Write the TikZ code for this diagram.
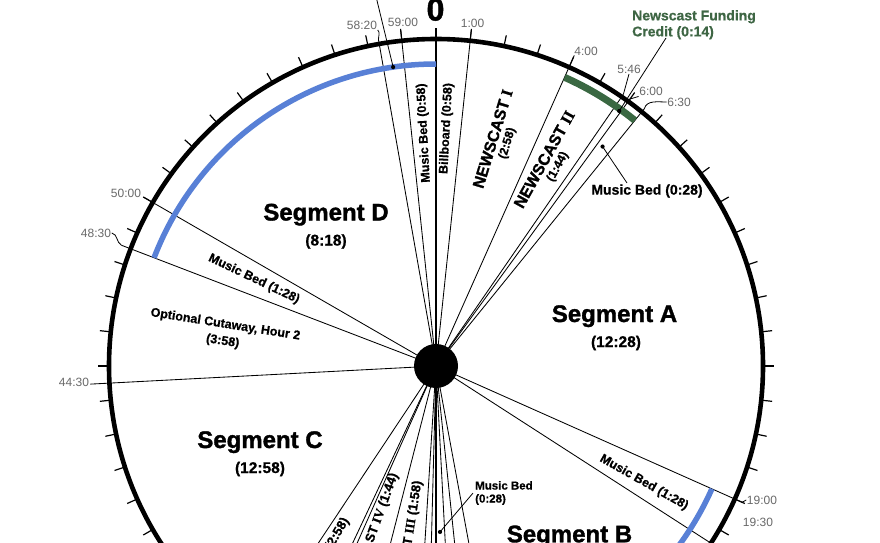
\documentclass[tikz,border=0pt]{standalone}
\usepackage{fontspec}
\setmainfont{Liberation Sans}
\newfontfamily\heavy{Liberation Sans}[FakeBold=1.4]
\newfontfamily\semiheavy{Liberation Sans}[FakeBold=0.7]
\newfontfamily\romfont{Liberation Serif}[FakeBold=0.7]
\usetikzlibrary{calc}
\definecolor{clkblue}{RGB}{88,128,214}
\definecolor{clkgreen}{RGB}{58,104,66}
\definecolor{clkgreentext}{RGB}{62,102,68}
\definecolor{clkgray}{RGB}{105,105,105}
\begin{document}
\begin{tikzpicture}[x=1pt,y=1pt,
  radial/.style={line width=0.85pt},
  mainradial/.style={line width=2.4pt},
  minutetick/.style={line width=1.2pt},
  leader/.style={line width=0.8pt},
  timelabel/.style={font=\fontsize{12}{12}\selectfont, text=clkgray, inner sep=0.5pt},
  seglabel/.style={font=\heavy\fontsize{24}{24}\selectfont\bfseries, inner sep=0pt, anchor=base},
  segtime/.style={font=\semiheavy\fontsize{15.5}{15.5}\selectfont\bfseries, inner sep=0pt},
  itemlabel/.style={font=\semiheavy\fontsize{12.5}{17}\selectfont\bfseries, inner sep=0pt, align=center},
  newslabel/.style={font=\heavy\fontsize{16}{13}\selectfont\bfseries, inner sep=0pt, align=center},
  newsbottom/.style={font=\semiheavy\fontsize{13}{13}\selectfont\bfseries, inner sep=0pt, anchor=east},
  dotmark/.style={circle, fill=black, inner sep=0pt, minimum size=4.2pt},
]
\useasboundingbox (0,0) rectangle (880,542);
\fill[white] (0,0) rectangle (880,542);
\clip (0,0) rectangle (880,542);
\coordinate (C) at (436,176);

% ends of the radial lines
\foreach \nm/\tm/\rad in {e0/0/338, e1/1/339, e4/4/340, e546/5.7667/330, e6/6/330, e630/6.5/331,
  e19/19/335, e2028/20.4667/334, e2815/28.25/327, e29/29/327, e2930/29.5/327, e30/30/327,
  e3015/30.25/327, e3036/30.6/327, e3224/32.4/327, e34/34/327, e3412/34.2/327, e3536/35.6/327,
  e4430/44.5/346, e4830/48.5/337, e50/50/338, e5820/58.3333/331, e59/59/339}
  {\coordinate (\nm) at ($(C)+({90-6*\tm}:\rad)$);}

\foreach \nm in {e1,e4,e546,e6,e630,e19,e2028,e2815,e29,e2930,e3015,e3036,e3224,e34,e3412,e3536,e4430,e4830,e50,e5820,e59}
  {\draw[radial] (C) -- (\nm);}
\draw[mainradial] (C) -- (e0);
\draw[mainradial] (C) -- (e30);

% clock ring and minute ticks
\draw[line width=4.6pt] (C) circle[radius=327];
\foreach \m in {0,...,59}
  {\draw[minutetick] ($(C)+({90-6*\m}:329)$) -- ($(C)+({90-6*\m}:338)$);}

% coloured arcs
\draw[clkblue, line width=5.5pt] ($(C)+({90-6*48.5}:302)$) arc[start angle={90-6*48.5}, end angle=-270, radius=302];
\draw[clkblue, line width=5.5pt] ($(C)+({90-6*19}:302)$) arc[start angle={90-6*19}, end angle={90-6*28}, radius=302];
\draw[clkgreen, line width=7pt] ($(C)+(66:316)$) arc[start angle=66, end angle=51, radius=316];

% hub
\node[circle, fill=black, minimum size=44pt, inner sep=0pt] (hub) at (C) {};

% dots with leaders
\node[dotmark] (dotA) at ($(C)+({90-6*58.64}:302)$) {};
\coordinate (dotAtop) at (372,562);
\draw[leader] (dotA.center) -- (dotAtop);

\node[dotmark] (dotB) at ($(C)+({90-6*5.95}:314)$) {};
\node[font=\semiheavy\fontsize{14}{16}\selectfont\bfseries, text=clkgreentext, align=left, anchor=north west, inner sep=0pt] (fund) at (632,532) {Newscast Funding\\Credit (0:14)};
\coordinate (fundlead) at (666,504);
\draw[leader] (fundlead) -- (dotB.center);

\node[dotmark] (dotC) at ($(C)+({90-6*6.2}:275.5)$) {};
\node[font=\semiheavy\fontsize{14}{14}\selectfont\bfseries, inner sep=0pt] (mbA) at (647,351) {Music Bed (0:28)};
\coordinate (mbAlead) at (627,359);
\draw[leader] (dotC.center) -- (mbAlead);

\node[dotmark] (dotD) at ($(C)+({90-6*29.77}:166)$) {};
\node[font=\semiheavy\fontsize{11.5}{13}\selectfont\bfseries, align=left, anchor=north west, inner sep=0pt] (mbB) at (475,61) {Music Bed\\(0:28)};
\draw[leader] (dotD.center) -- ($(mbB.west)+(-2,0)$);

% time labels
\node[font=\heavy\fontsize{32}{32}\selectfont\bfseries, anchor=base, inner sep=0pt] (zero) at (435.5,521.5) {0};
\node[timelabel] (t5820) at (362,517) {58:20};
\node[timelabel] (t59) at (403,520) {59:00};
\node[timelabel] (t1) at (472.5,519) {1:00};
\node[timelabel] (t4) at (586,491) {4:00};
\node[timelabel] (t546) at (629,473) {5:46};
\node[timelabel] (t6) at (651,450.5) {6:00};
\node[timelabel] (t630) at (679,440) {6:30};
\node[timelabel] (t50) at (126,349) {50:00};
\node[timelabel] (t4830) at (96,309) {48:30};
\node[timelabel] (t4430) at (74,160) {44:30};
\node[timelabel] (t19) at (762,42) {19:00};
\node[timelabel] (t1930) at (758,20) {19:30};

\draw[leader] (e5820) to[out=95,in=-45] (t5820.south east);
\draw[leader] (e546) -- (t546.south);
\draw[leader] (e6) -- (t6.south west);
\draw[leader] (e630) to[out=75,in=180] (t630.west);
\draw[leader] (e4830) to[out=150,in=-10] (t4830.east);
\draw[leader] (e19) -- (t19.west);

% segment labels
\node[seglabel] (segD) at (326,321.5) {Segment D};
\node[segtime] (segDt) at (326,300.5) {(8:18)};
\node[seglabel] (segA) at (614.5,220) {Segment A};
\node[segtime] (segAt) at (616,199) {(12:28)};
\node[seglabel] (segC) at (260,94) {Segment C};
\node[segtime] (segCt) at (260,73) {(12:58)};
\node[seglabel] (segB) at (569.5,-0.3) {Segment B};

% item labels
\node[itemlabel, rotate=93] (mb58) at (424,409) {Music Bed (0:58)};
\node[itemlabel, rotate=87] (bb58) at (446.5,413.5) {Billboard (0:58)};
\node[newslabel, rotate=73] (nc1) at (500,401) {NEWSCAST {\romfont I}\\{\semiheavy\fontsize{12}{12}\selectfont (2:58)}};
\node[newslabel, rotate=61] (nc2) at (551,379) {NEWSCAST {\romfont II}\\{\semiheavy\fontsize{12}{12}\selectfont (1:44)}};
\node[itemlabel, rotate=-25.5] (mb128a) at (254,263) {Music Bed (1:28)};
\node[itemlabel, rotate=-9] (cut) at (224,209) {Optional Cutaway, Hour 2\\(3:58)};
\node[itemlabel, rotate=-29.5] (mb128b) at (644,59.5) {Music Bed (1:28)};
\node[newsbottom, rotate=81] (nc3) at ($(C)+({90-6*31.47}:116)$) {NEWSCAST {\romfont III} (1:58)};
\node[newsbottom, rotate=70] (nc4) at ($(C)+({90-6*33.5}:115)$) {NEWSCAST {\romfont IV} (1:44)};
\node[newsbottom, rotate=59.5] (n258) at ($(C)+({90-6*35.07}:177)$) {(2:58)};
\end{tikzpicture}
\end{document}
